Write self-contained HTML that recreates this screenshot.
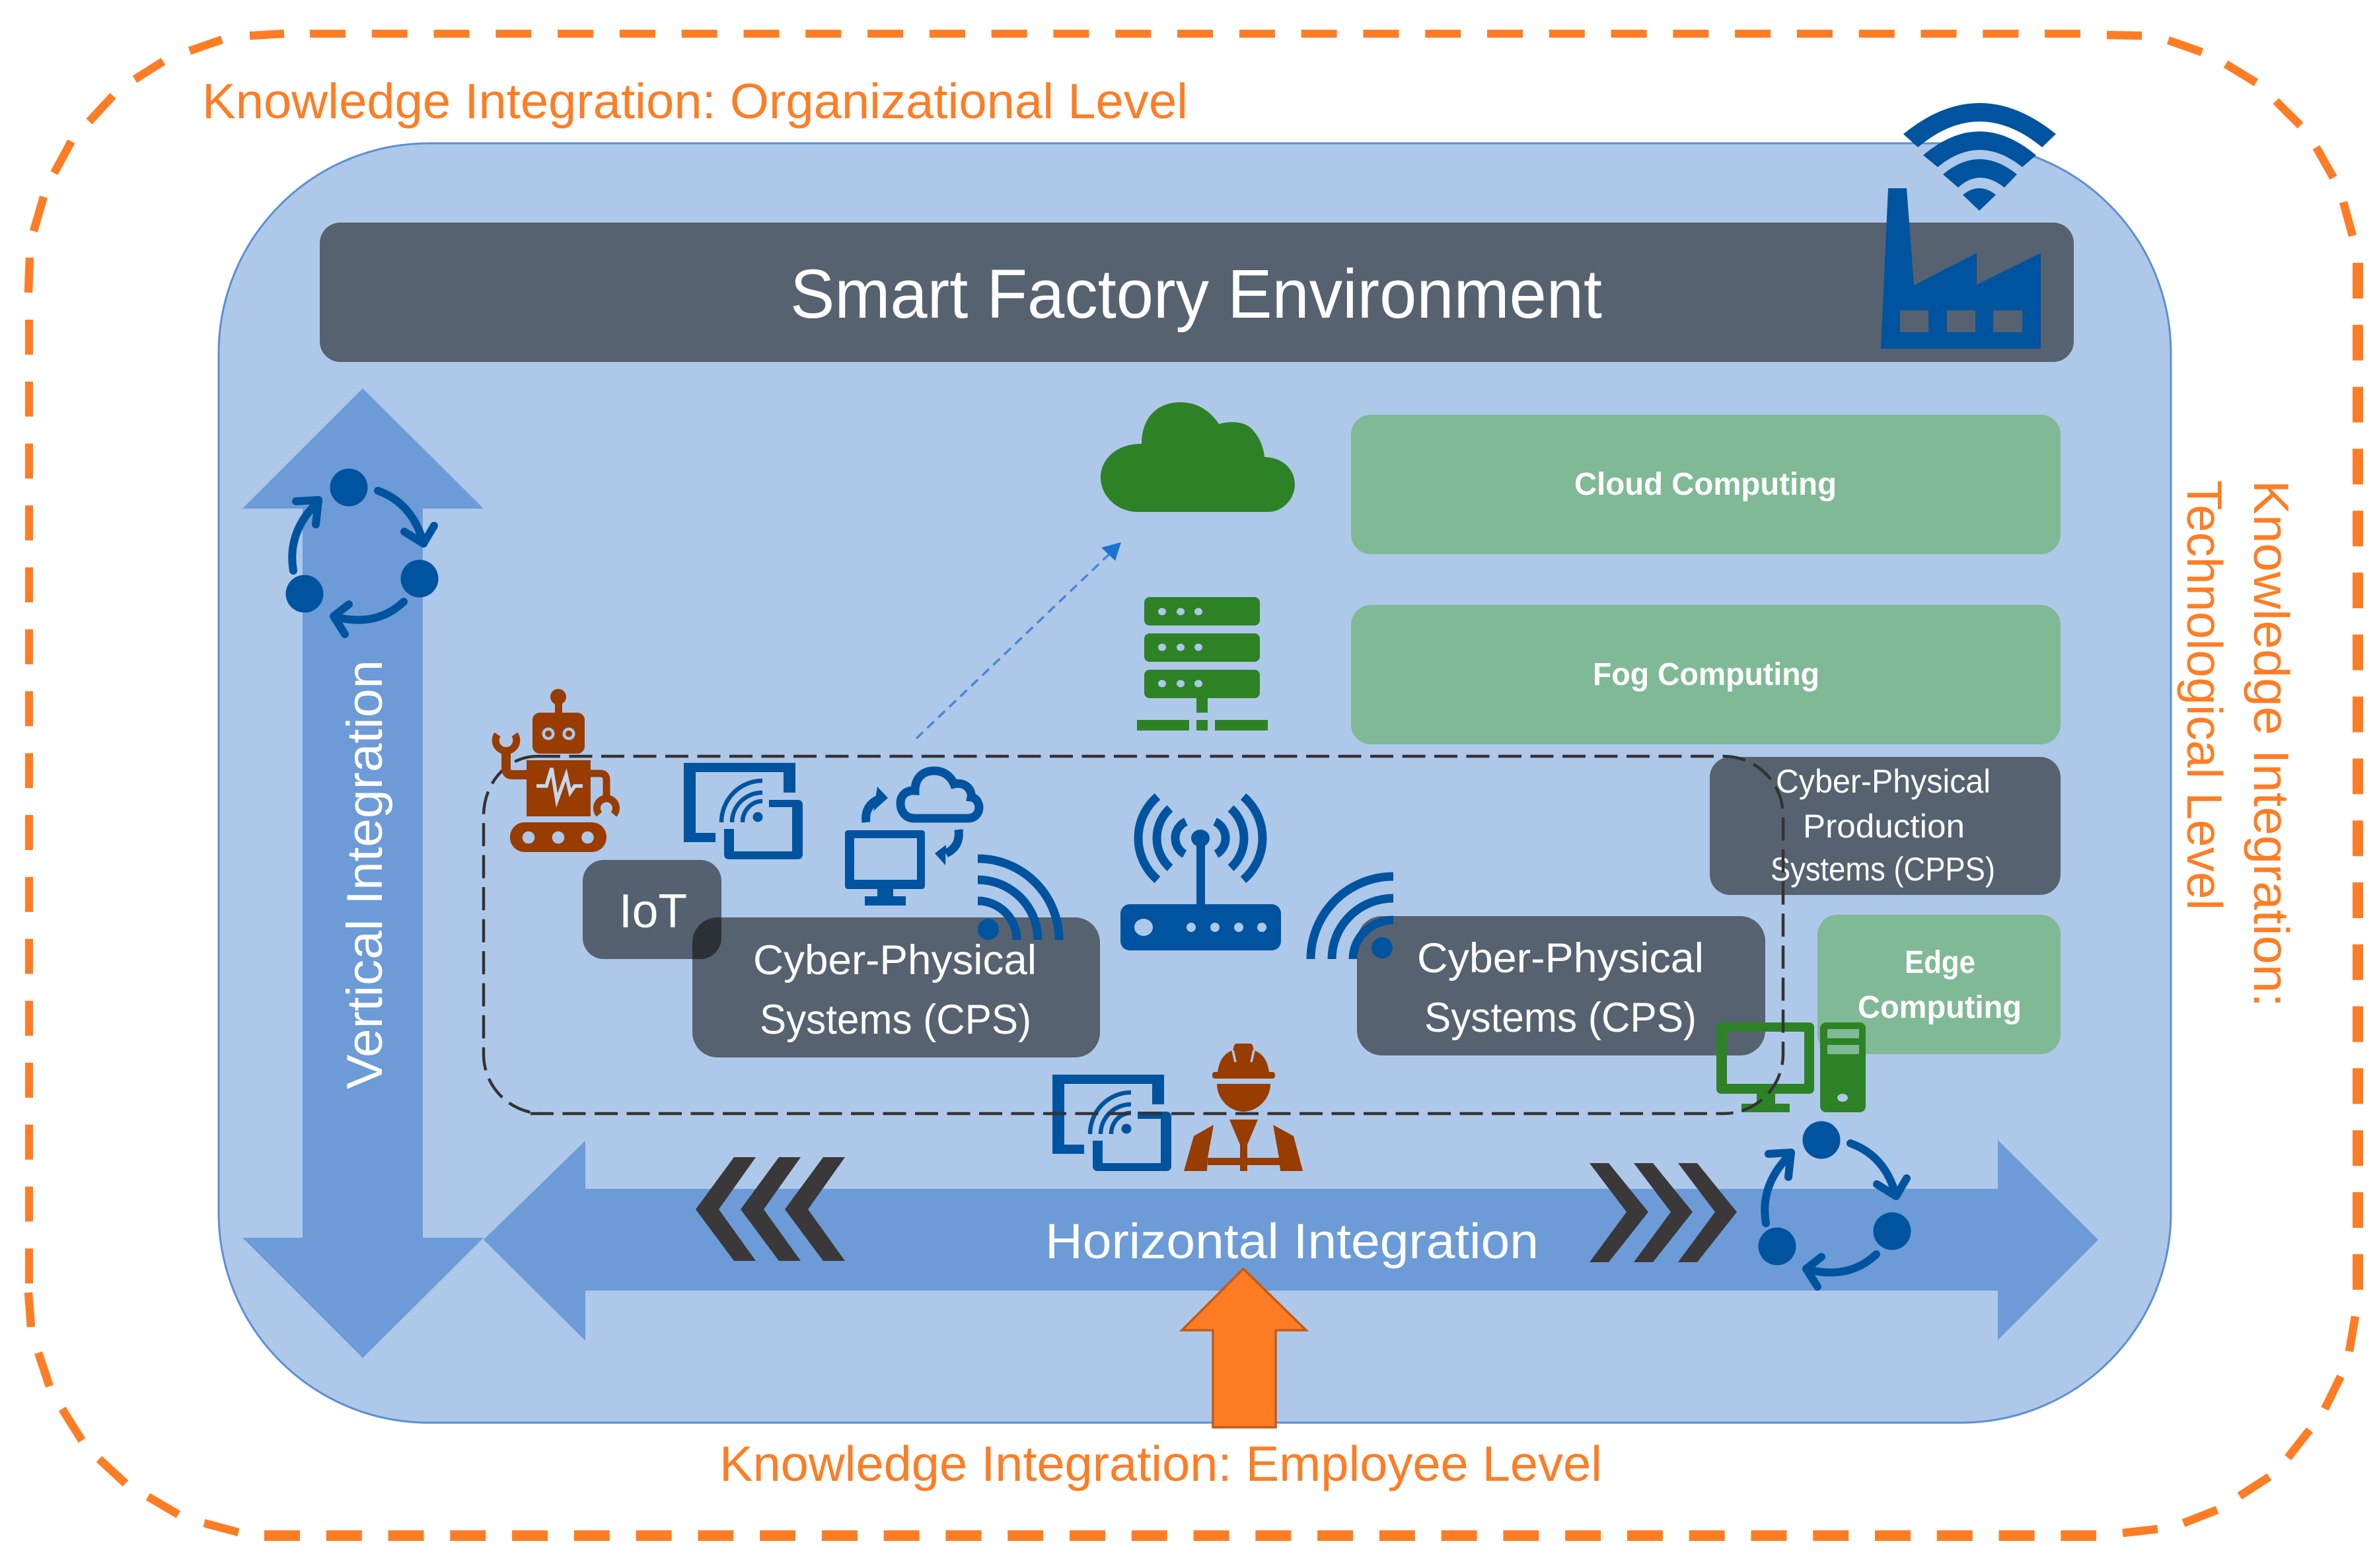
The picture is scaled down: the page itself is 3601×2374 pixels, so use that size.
<!DOCTYPE html>
<html>
<head>
<meta charset="utf-8">
<style>
html,body{margin:0;padding:0;background:#fff;width:3601px;height:2374px;overflow:hidden}
svg{display:block}
text{font-family:"Liberation Sans",sans-serif}
</style>
</head>
<body>
<svg xmlns="http://www.w3.org/2000/svg" width="3601" height="2374" viewBox="0 0 3601 2374">
<defs>
<g id="cycle" fill="none" stroke="#00539F" stroke-width="12" stroke-linecap="round" stroke-linejoin="round">
  <ellipse cx="528" cy="738" rx="28.5" ry="28.5" fill="#00539F" stroke="none"/>
  <ellipse cx="635" cy="876" rx="28.5" ry="28.5" fill="#00539F" stroke="none"/>
  <ellipse cx="461" cy="899" rx="28.5" ry="28.5" fill="#00539F" stroke="none"/>
  <path d="M572 743 Q625 762 641 823"/><path d="M612 805 L641 823 L657 796"/>
  <path d="M611 911 Q570 950 507 934"/><path d="M528 915 L505 933 L522 960"/>
  <path d="M444 864 Q434 805 482 759"/><path d="M448 759 L482 757 L478 794"/>
</g>
<g id="device">
  <path fill="#00539F" d="M1035 1155H1204V1200H1186V1169H1053V1261H1083V1275H1035Z"/>
  <path fill="#00539F" d="M1164 1211H1207Q1215 1211 1215 1219V1293Q1215 1301 1207 1301H1104Q1096 1301 1096 1293V1255H1111V1289H1199V1222H1164Z"/>
  <circle cx="1147" cy="1237" r="7.5" fill="#00539F"/>
  <g fill="none" stroke="#00539F" stroke-width="6.5">
    <path d="M1092 1245A62 63 0 0 1 1154 1182"/>
    <path d="M1108 1245A46 45 0 0 1 1154 1200"/>
    <path d="M1124 1245A30 32 0 0 1 1154 1213"/>
  </g>
</g>
</defs>

<rect width="3601" height="2374" fill="#fff"/>

<!-- outer dashed border -->
<g fill="none" stroke="#FE7D24">
  <line x1="469" y1="51" x2="3149" y2="51" stroke-width="12" stroke-dasharray="54 39.79"/>
  <line x1="44" y1="484" x2="44" y2="1944" stroke-width="12" stroke-dasharray="53 40.75"/>
  <line x1="3569" y1="398" x2="3569" y2="1953" stroke-width="16" stroke-dasharray="54 39.8"/>
  <line x1="400" y1="2325" x2="3173" y2="2325" stroke-width="16" stroke-dasharray="54 39.77"/>
  <g stroke-width="12.5">
    <path d="M43 443L45 390"/><path d="M51 350L66 298"/><path d="M82 262L108 214"/><path d="M135 184L171 145"/><path d="M204 120L247 93"/><path d="M287 77L336 60"/><path d="M378 54L430 51"/>
    <path d="M43 1957L47 2009"/><path d="M58 2048L75 2099"/><path d="M94 2133L124 2181"/><path d="M150 2209L190 2246"/><path d="M224 2266L270 2293"/><path d="M309 2306L361 2320"/>
    <path d="M3213 2321L3266 2315"/><path d="M3305 2306L3356 2286"/><path d="M3390 2265L3435 2236"/><path d="M3463 2207L3496 2165"/><path d="M3519 2133L3543 2084"/><path d="M3556 2046L3565 1993"/>
    <path d="M3189 53L3242 54"/><path d="M3282 61L3333 79"/><path d="M3369 97L3415 125"/><path d="M3445 153L3482 190"/><path d="M3506 223L3532 269"/><path d="M3547 306L3561 357"/>
  </g>
</g>

<!-- inner panel -->
<rect x="331" y="217" width="2955" height="1937" rx="318" ry="318" fill="#AEC8E9" stroke="#5B8FD6" stroke-width="3"/>

<!-- banner -->
<rect x="484" y="337" width="2655" height="211" rx="31" ry="31" fill="#56626F"/>
<text x="1196" y="481" font-size="105" fill="#fff" textLength="1229" lengthAdjust="spacingAndGlyphs">Smart Factory Environment</text>

<!-- factory -->
<path fill-rule="evenodd" fill="#00539F" d="M2858 285H2886L2897 432L2992 383V431L3089 383V528H2847ZM2876 470V503H2919V470ZM2947 470V503H2990V470ZM3017 470V503H3061V470Z"/>
<!-- wifi -->
<g fill="#00539F">
  <path d="M2881 203Q2996 109 3112 203L3091 223Q2996 145 2903 223Z"/>
  <path d="M2911 235Q2996 163 3082 235L3061 253Q2996 201 2933 253Z"/>
  <path d="M2941 264Q2996 218 3053 264L3034 284Q2996 254 2964 284Z"/>
  <path d="M2971 295Q2996 275 3021 295L2996 319Z"/>
</g>

<!-- vertical arrow -->
<polygon fill="#6C9BD8" points="549,588 732,770 640,770 640,1874 732,1874 549,2056 367,1874 458,1874 458,770 367,770"/>
<!-- horizontal arrow -->
<polygon fill="#6C9BD8" points="732,1877 886,1727 886,1800 3024,1800 3024,1726 3176,1877 3024,2029 3024,1954 886,1954 886,2030"/>

<text transform="translate(578,1649) rotate(-90)" font-size="76" fill="#fff" textLength="650" lengthAdjust="spacingAndGlyphs">Vertical Integration</text>
<text x="1582" y="1905" font-size="75" fill="#fff" textLength="747" lengthAdjust="spacingAndGlyphs">Horizontal Integration</text>

<!-- chevrons -->
<g fill="#3A3838">
  <polygon points="1053,1831 1111,1752 1144,1752 1088,1831 1144,1909 1111,1909"/>
  <polygon points="1121,1831 1179,1752 1212,1752 1156,1831 1212,1909 1179,1909"/>
  <polygon points="1188,1831 1246,1752 1279,1752 1223,1831 1279,1909 1246,1909"/>
  <polygon points="2629,1835 2569,1761 2540,1761 2596,1835 2540,1911 2569,1911"/>
  <polygon points="2562,1835 2502,1761 2473,1761 2529,1835 2473,1911 2502,1911"/>
  <polygon points="2495,1835 2435,1761 2406,1761 2462,1835 2406,1911 2435,1911"/>
</g>

<!-- cycles -->
<use href="#cycle"/>
<use href="#cycle" transform="translate(2229,988)"/>

<!-- green boxes -->
<rect x="2045" y="628" width="1074" height="211" rx="30" fill="#80B996"/>
<rect x="2045" y="916" width="1074" height="211" rx="30" fill="#80B996"/>
<rect x="2751" y="1385" width="368" height="211" rx="30" fill="#80B996"/>
<g fill="#fff" font-weight="bold" font-size="48">
  <text x="2383" y="749" textLength="397" lengthAdjust="spacingAndGlyphs">Cloud Computing</text>
  <text x="2411" y="1037" textLength="343" lengthAdjust="spacingAndGlyphs">Fog Computing</text>
  <text x="2883" y="1473" textLength="107" lengthAdjust="spacingAndGlyphs">Edge</text>
  <text x="2812" y="1541" textLength="248" lengthAdjust="spacingAndGlyphs">Computing</text>
</g>

<!-- CPPS -->
<rect x="2588" y="1146" width="531" height="209" rx="31" fill="#56626F"/>
<g fill="#fff" font-size="50">
  <text x="2688" y="1200" textLength="325" lengthAdjust="spacingAndGlyphs">Cyber-Physical</text>
  <text x="2729" y="1268" textLength="245" lengthAdjust="spacingAndGlyphs">Production</text>
  <text x="2680" y="1333" textLength="340" lengthAdjust="spacingAndGlyphs">Systems (CPPS)</text>
</g>

<!-- CPS boxes -->
<rect x="1048" y="1389" width="617" height="212" rx="38" fill="#56626F"/>
<rect x="2054" y="1387" width="618" height="211" rx="38" fill="#56626F"/>
<g fill="#fff" font-size="63">
  <text x="1140" y="1475" textLength="429" lengthAdjust="spacingAndGlyphs">Cyber-Physical</text>
  <text x="1150" y="1565" textLength="411" lengthAdjust="spacingAndGlyphs">Systems (CPS)</text>
  <text x="2145" y="1472" textLength="434" lengthAdjust="spacingAndGlyphs">Cyber-Physical</text>
  <text x="2156" y="1562" textLength="412" lengthAdjust="spacingAndGlyphs">Systems (CPS)</text>
</g>

<!-- IoT -->
<rect x="882" y="1302" width="210" height="150" rx="32" fill="#050504" fill-opacity="0.53"/>
<text x="937" y="1404" font-size="72" fill="#fff" textLength="103" lengthAdjust="spacingAndGlyphs">IoT</text>

<!-- cloud -->
<path fill="#2E8226" d="M1722 775C1690 775 1666 750 1666 723C1666 692 1695 671 1728 672C1728 632 1752 609 1787 609C1812 609 1832 622 1845 642C1858 638 1885 636 1897 652C1908 664 1913 680 1914 692C1940 692 1960 710 1960 733C1960 757 1940 775 1920 775Z"/>

<!-- server -->
<g fill="#2E8226">
  <rect x="1732" y="904" width="175" height="43" rx="8"/>
  <rect x="1732" y="959" width="175" height="43" rx="8"/>
  <rect x="1732" y="1014" width="175" height="43" rx="8"/>
  <rect x="1811" y="1057" width="17" height="22"/>
  <rect x="1721" y="1090" width="79" height="16"/>
  <rect x="1811" y="1090" width="17" height="16"/>
  <rect x="1839" y="1090" width="80" height="16"/>
</g>
<g fill="#AEC8E9">
  <ellipse cx="1759" cy="926" rx="6" ry="5.5"/><ellipse cx="1787" cy="926" rx="6" ry="5.5"/><ellipse cx="1814" cy="926" rx="6" ry="5.5"/>
  <ellipse cx="1759" cy="980" rx="6" ry="5.5"/><ellipse cx="1787" cy="980" rx="6" ry="5.5"/><ellipse cx="1814" cy="980" rx="6" ry="5.5"/>
  <ellipse cx="1759" cy="1035" rx="6" ry="5.5"/><ellipse cx="1787" cy="1035" rx="6" ry="5.5"/><ellipse cx="1814" cy="1035" rx="6" ry="5.5"/>
</g>

<!-- blue arrow -->
<line x1="1387" y1="1118" x2="1680" y2="838" stroke="#4A86D8" stroke-width="3.5" stroke-dasharray="14 9"/>
<polygon fill="#1A73D0" points="1697,821 1688,849 1667,829"/>

<!-- router -->
<g fill="#00539F">
  <rect x="1696" y="1369" width="243" height="70" rx="14"/>
  <rect x="1811" y="1269" width="13" height="101"/>
  <ellipse cx="1817" cy="1269" rx="14" ry="13"/>
</g>
<g fill="#AEC8E9">
  <ellipse cx="1731" cy="1404" rx="14" ry="13"/>
  <circle cx="1803" cy="1404" r="7"/><circle cx="1839" cy="1404" r="7"/><circle cx="1875" cy="1404" r="7"/><circle cx="1910" cy="1404" r="7"/>
</g>
<g fill="none" stroke="#00539F" stroke-width="13">
  <path d="M1752 1206A83 83 0 0 0 1752 1332"/>
  <path d="M1771 1224A60.6 60.6 0 0 0 1771 1314"/>
  <path d="M1795 1244A27.5 27.5 0 0 0 1793 1293"/>
  <path d="M1882 1206A83 83 0 0 1 1882 1332"/>
  <path d="M1863 1224A60.6 60.6 0 0 1 1863 1314"/>
  <path d="M1839 1244A27.5 27.5 0 0 1 1841 1293"/>
</g>

<!-- wifi right CPS -->
<g fill="none" stroke="#00539F" stroke-width="13">
  <path d="M2109 1327A125 125 0 0 0 1984 1452"/>
  <path d="M2109 1360A93 92 0 0 0 2016 1452"/>
  <path d="M2109 1393A61 59 0 0 0 2048 1452"/>
</g>
<circle cx="2092" cy="1435" r="16" fill="#00539F"/>

<!-- wifi left CPS -->
<g fill="none" stroke="#00539F" stroke-width="13">
  <path d="M1480 1300A123 123 0 0 1 1603 1423"/>
  <path d="M1480 1332A91 91 0 0 1 1571 1423"/>
  <path d="M1480 1364A59 59 0 0 1 1539 1423"/>
</g>
<circle cx="1496" cy="1407" r="16" fill="#00539F"/>

<!-- devices -->
<use href="#device"/>
<use href="#device" transform="translate(558,472)"/>

<!-- computer + cloud -->
<path fill="#00539F" fill-rule="evenodd" d="M1284 1257H1395Q1400 1257 1400 1262V1341Q1400 1346 1395 1346H1352V1357H1371V1371H1309V1357H1328V1346H1284Q1279 1346 1279 1341V1262Q1279 1257 1284 1257ZM1293 1269V1332H1388V1269Z"/>
<path fill="none" stroke="#00539F" stroke-width="13" d="M1384 1239C1368 1239 1363 1225 1363 1216C1363 1204 1372 1196 1385 1197C1385 1180 1395 1167 1414 1167C1430 1167 1440 1177 1444 1187C1462 1183 1472 1197 1470 1207C1480 1208 1482 1220 1482 1222C1482 1232 1475 1239 1465 1239Z"/>
<path fill="none" stroke="#00539F" stroke-width="13" d="M1311 1245Q1308 1220 1330 1210"/>
<polygon fill="#00539F" points="1328,1191 1344,1208 1322,1228"/>
<path fill="none" stroke="#00539F" stroke-width="13" d="M1451 1256Q1454 1282 1432 1292"/>
<polygon fill="#00539F" points="1415,1292 1432,1279 1431,1310"/>

<!-- green computer -->
<path fill="#2E8226" fill-rule="evenodd" d="M2606 1548H2738Q2746 1548 2746 1556V1648Q2746 1656 2738 1656H2687V1671H2709V1684H2636V1671H2659V1656H2606Q2598 1656 2598 1648V1556Q2598 1548 2606 1548ZM2614 1562V1641H2731V1562Z"/>
<rect x="2755" y="1548" width="69" height="136" rx="9" fill="#2E8226"/>
<rect x="2766" y="1558" width="48" height="14" fill="#80B996"/>
<rect x="2766" y="1582" width="48" height="14" fill="#80B996"/>
<ellipse cx="2789" cy="1662" rx="8" ry="6" fill="#AEC8E9"/>

<!-- worker -->
<g fill="#983C00">
  <path d="M1843 1623C1846 1604 1853 1595 1866 1590L1868 1583Q1869 1580 1872 1580H1892Q1895 1580 1896 1583L1898 1590C1911 1595 1918 1604 1921 1623Z"/>
  <rect x="1835" y="1623" width="95" height="10" rx="4"/>
  <path d="M1842 1641H1923C1923 1665 1902 1683 1882 1683C1862 1683 1842 1665 1842 1641Z"/>
  <polygon points="1861,1695 1904,1695 1888,1733 1888,1773 1877,1773 1877,1733"/>
  <polygon points="1837,1703 1807,1720 1792,1773 1827,1773 1828,1753"/>
  <polygon points="1927,1703 1958,1720 1972,1773 1938,1773 1936,1753"/>
  <rect x="1828" y="1753" width="109" height="11"/>
</g>
<g stroke="#AEC8E9" stroke-width="3.5">
  <line x1="1866" y1="1590" x2="1870" y2="1608"/>
  <line x1="1898" y1="1590" x2="1894" y2="1608"/>
</g>

<!-- orange arrow -->
<polygon fill="#FE7D24" stroke="#C55A11" stroke-width="3.5" points="1882,1921 1977,2014 1931,2014 1931,2161 1836,2161 1836,2014 1789,2014"/>

<!-- dashed group -->
<g fill="none" stroke="#333" stroke-width="4.5" stroke-dasharray="35 13.5">
  <path d="M813 1145H2609A90 90 0 0 1 2699 1235V1596A90 90 0 0 1 2609 1686"/>
  <path d="M803 1686H2609"/>
  <path d="M813 1145A81 90 0 0 0 732 1235V1596A90 90 0 0 0 822 1686"/>
</g>

<!-- robot -->
<g fill="#983C00">
  <circle cx="845" cy="1055" r="12"/>
  <rect x="840" y="1060" width="11" height="22"/>
  <rect x="806" y="1079" width="79" height="62" rx="11"/>
  <rect x="797" y="1151" width="97" height="85"/>
  <rect x="772" y="1245" width="146" height="45" rx="22"/>
</g>
<g fill="none" stroke="#983C00">
  <path stroke-width="14" d="M797 1173H776Q766 1173 766 1163V1135"/>
  <path stroke-width="11" d="M894 1171H908Q918 1171 918 1181V1207"/>
  <path stroke-width="11" d="M753 1112A15.8 15.8 0 1 0 779 1112"/>
  <path stroke-width="11" d="M907 1233A14.5 14.5 0 1 1 929 1233"/>
</g>
<g fill="#AEC8E9">
  <circle cx="830" cy="1111" r="9.5"/><circle cx="861" cy="1111" r="9.5"/>
  <circle cx="800" cy="1268" r="9.3"/><circle cx="845" cy="1268" r="9.3"/><circle cx="889.5" cy="1268" r="9.3"/>
</g>
<circle cx="830" cy="1111" r="5" fill="#983C00"/><circle cx="861" cy="1111" r="5" fill="#983C00"/>
<polyline fill="none" stroke="#C5D7EE" stroke-width="5.5" points="812,1190 827,1190 835,1163 843,1212 857,1173 863,1200 870,1190 882,1190"/>

<!-- orange labels -->
<g fill="#FE7D24" font-size="75">
  <text x="306" y="179" textLength="1492" lengthAdjust="spacingAndGlyphs">Knowledge Integration: Organizational Level</text>
  <text x="1089" y="2242" textLength="1336" lengthAdjust="spacingAndGlyphs">Knowledge Integration: Employee Level</text>
  <text transform="translate(3412,727) rotate(90)" textLength="798" lengthAdjust="spacingAndGlyphs">Knowledge Integration:</text>
  <text transform="translate(3311,727) rotate(90)" textLength="651" lengthAdjust="spacingAndGlyphs">Technological Level</text>
</g>
</svg>
</body>
</html>
